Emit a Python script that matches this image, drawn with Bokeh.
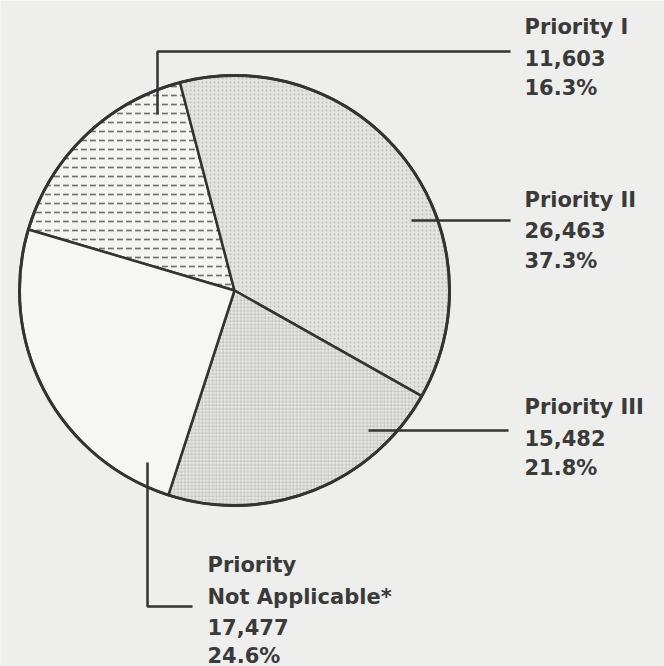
import math
from bokeh.plotting import figure
from bokeh.models import Range1d, ColumnDataSource
from bokeh.core.properties import value
from bokeh.embed import file_html
from bokeh.resources import INLINE

# ---- data ----
categories = ["Priority I", "Priority II", "Priority III", "Priority\nNot Applicable*"]
counts = [11603, 26463, 15482, 17477]
count_labels = ["11,603", "26,463", "15,482", "17,477"]
pct_labels = ["16.3%", "37.3%", "21.8%", "24.6%"]

W, H = 664, 666
BG = "#eeeeec"
INK = "#333333"
TXT = "#3a3a3a"

p = figure(width=W, height=H, output_backend="svg", toolbar_location=None,
           x_range=Range1d(0, W), y_range=Range1d(0, H), min_border=0)
p.axis.visible = False
p.grid.visible = False
p.outline_line_color = None
p.background_fill_color = BG
p.border_fill_color = BG

def Y(py):
    return H - py

cx, cy, r = 234, Y(290), 215
start_deg = 163.5  # boundary between "not applicable" and Priority I, going clockwise
total = sum(counts)

fills = ["#f4f4f2", "#e2e2e0", "#e8e8e6", "#f6f6f4"]
hatch_patterns = ["horizontal_dash", "dot", "cross", " "]
hatch_colors = ["#707070", "#c2c2c0", "#b2b2b0", "#000000"]
hatch_scales = [9, 4, 3.5, 10]
hatch_weights = [1.7, 1.0, 0.6, 1.0]

ang = math.radians(start_deg)
starts, ends = [], []
for c in counts:
    sweep = 2 * math.pi * c / total
    # clockwise from ang to ang - sweep
    starts.append(ang - sweep)
    ends.append(ang)
    ang -= sweep

src = ColumnDataSource(dict(x=[cx] * 4, y=[cy] * 4, s=starts, e=ends, fill=fills,
                            hp=hatch_patterns, hc=hatch_colors, hs=hatch_scales, hw=hatch_weights))
p.wedge(x="x", y="y", radius=r, start_angle="s", end_angle="e", direction="anticlock",
        source=src, fill_color="fill", line_color=INK, line_width=2.5,
        hatch_pattern="hp", hatch_color="hc", hatch_scale="hs", hatch_weight="hw")
p.circle(x=[cx], y=[cy], radius=r, fill_color=None, line_color=INK, line_width=3)

# leader lines
leaders = [
    ([157, 157, 510], [114, 51, 51]),
    ([411, 510], [220, 220]),
    ([368, 508], [430, 430]),
    ([147, 147, 192], [462, 606, 606]),
]
for xs, ys in leaders:
    p.line(xs, [Y(v) for v in ys], line_color=INK, line_width=2.5)

# labels
label_pos = [(524, [26, 57, 87]), (524, [199, 229, 260]), (524, [406, 437, 467]),
             (207, [564, 596, 626, 655])]
tx, ty, tt = [], [], []
for i, (x0, ys) in enumerate(label_pos):
    lines = categories[i].split("\n") + [count_labels[i], pct_labels[i]]
    for line, yy in zip(lines, ys):
        tx.append(x0); ty.append(Y(yy)); tt.append(line)
p.text(x=tx, y=ty, text=tt, text_font=value("DejaVu Sans"), text_font_style="bold",
       text_font_size="21px", text_color=TXT, text_baseline="alphabetic", text_align="left")

open("out.html", "w").write(file_html(p, INLINE))
